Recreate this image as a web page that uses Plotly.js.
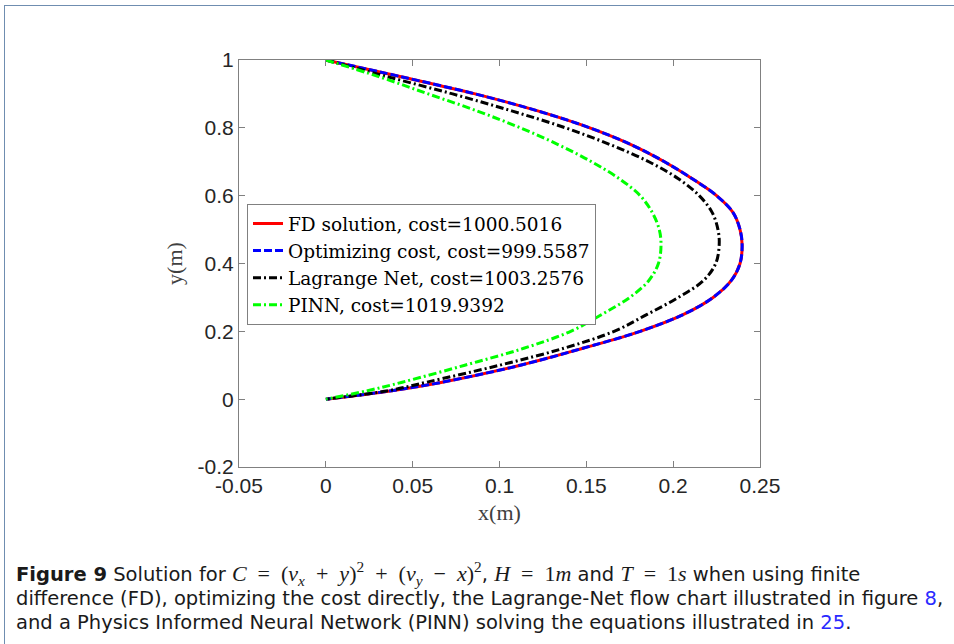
<!DOCTYPE html>
<html>
<head>
<meta charset="utf-8">
<script src="https://cdn.plot.ly/plotly-3.0.1.min.js"></script>
<style>
html,body{margin:0;padding:0;background:#fff;}
#wrap{position:relative;width:954px;height:644px;overflow:hidden;}
#frame{position:absolute;left:4px;top:5px;width:1000px;height:700px;border:1.5px solid #6f8db0;pointer-events:none;z-index:5;}
</style>
</head>
<body>
<div id="wrap"><div id="chart"></div><div id="frame"></div></div>
<script>
// Series (upper branch from (0,1), lower branch back to (0,0))
const fdX  = [0, 0.044, 0.086, 0.122, 0.152, 0.176, 0.195, 0.211, 0.225, 0.2345, 0.2385, 0.2397, 0.2385, 0.2335, 0.223, 0.206, 0.181, 0.148, 0.112, 0.067, 0.038, 0];
const fdY  = [1, 0.95, 0.9, 0.85, 0.8, 0.75, 0.7, 0.65, 0.6, 0.55, 0.5, 0.455, 0.4, 0.35, 0.3, 0.25, 0.2, 0.15, 0.1, 0.05, 0.025, 0];
const optX = [0, 0.044, 0.086, 0.122, 0.152, 0.176, 0.195, 0.211, 0.225, 0.2345, 0.2385, 0.2397, 0.2385, 0.2335, 0.223, 0.206, 0.181, 0.148, 0.112, 0.067, 0.038, 0];
const optY = [1, 0.95, 0.9, 0.85, 0.8, 0.75, 0.7, 0.65, 0.6, 0.55, 0.5, 0.455, 0.4, 0.35, 0.3, 0.25, 0.2, 0.15, 0.1, 0.05, 0.025, 0];
const lnX  = [0, 0.036, 0.073, 0.107, 0.138, 0.164, 0.186, 0.203, 0.215, 0.2225, 0.2258, 0.2265, 0.2245, 0.2175, 0.203, 0.185, 0.166, 0.137, 0.1, 0.058, 0.036, 0];
const lnY  = [1, 0.95, 0.9, 0.85, 0.8, 0.75, 0.7, 0.65, 0.6, 0.55, 0.5, 0.455, 0.4, 0.35, 0.3, 0.25, 0.2, 0.15, 0.1, 0.05, 0.025, 0];
const pnX  = [0, 0.031, 0.059, 0.087, 0.112, 0.134, 0.153, 0.169, 0.181, 0.188, 0.192, 0.193, 0.1915, 0.186, 0.175, 0.159, 0.141, 0.114, 0.08, 0.044, 0.024, 0];
const pnY  = [1, 0.95, 0.9, 0.85, 0.8, 0.75, 0.7, 0.65, 0.6, 0.55, 0.5, 0.453, 0.4, 0.35, 0.3, 0.25, 0.2, 0.15, 0.1, 0.05, 0.025, 0];
const seriesNames = ['FD solution, cost=1000.5016', 'Optimizing cost, cost=999.5587', 'Lagrange Net, cost=1003.2576', 'PINN, cost=1019.9392'];
const xTickVals = [-0.05, 0, 0.05, 0.1, 0.15, 0.2, 0.25];
const xTickText = ['-0.05', '0', '0.05', '0.1', '0.15', '0.2', '0.25'];
const yTickVals = [-0.2, 0, 0.2, 0.4, 0.6, 0.8, 1];
const yTickText = ['-0.2', '0', '0.2', '0.4', '0.6', '0.8', '1'];

const traces = [
  {x: fdX, y: fdY, name: seriesNames[0], mode: 'lines', line: {color: '#ff0000', width: 3, shape: 'spline', smoothing: 1}},
  {x: optX, y: optY, name: seriesNames[1], mode: 'lines', line: {color: '#0000ff', width: 3, dash: '8px,3px', shape: 'spline', smoothing: 1}},
  {x: lnX, y: lnY, name: seriesNames[2], mode: 'lines', line: {color: '#000000', width: 3, dash: '8px,3px,2px,3px', shape: 'spline', smoothing: 1}},
  {x: pnX, y: pnY, name: seriesNames[3], mode: 'lines', line: {color: '#00ff00', width: 3, dash: '8px,3px,2px,3px', shape: 'spline', smoothing: 1}}
];

const tickFont = {family: 'Liberation Sans, Arial, sans-serif', size: 21, color: '#262626'};
const serif = 'Liberation Serif, Times New Roman, serif';
const legendSerif = 'DejaVu Serif, Liberation Serif, serif';
const capFont = 'DejaVu Sans, sans-serif';

const sp = '\u00a0\u00a0';
const m = s => '<span style="font-family:Liberation Serif;font-size:22px">' + s + '</span>';
const capLines = [
  '<b>Figure 9</b> Solution for ' + m('<i>C</i>' + sp + '=' + sp + '(<i>v<sub>x</sub></i>' + sp + '+' + sp + '<i>y</i>)<sup>2</sup>' + sp + '+' + sp + '(<i>v<sub>y</sub></i>' + sp + '−' + sp + '<i>x</i>)<sup>2</sup>') + ', ' + m('<i>H</i>' + sp + '=' + sp + '1<i>m</i>') + ' and ' + m('<i>T</i>' + sp + '=' + sp + '1<i>s</i>') + ' when using finite',
  'difference (FD), optimizing the cost directly, the Lagrange-Net flow chart illustrated in figure <span style="color:#2a2aff">8</span>,',
  'and a Physics Informed Neural Network (PINN) solving the equations illustrated in <span style="color:#2a2aff">25</span>.'
];
const capY = [573, 598, 622];
const plotL = 239, plotW = 521, plotB = 467, plotH = 407;

const annotations = capLines.map((t, i) => ({
  text: t, xref: 'paper', yref: 'paper',
  x: (14 - plotL) / plotW, y: (plotB - capY[i]) / plotH,
  xanchor: 'left', yanchor: 'middle', align: 'left', showarrow: false,
  font: {family: capFont, size: 19.5, color: '#1a1a1a'}
}));

const layout = {
  width: 954, height: 644,
  margin: {l: 239, r: 194, t: 60, b: 177, pad: 0},
  paper_bgcolor: '#ffffff', plot_bgcolor: '#ffffff',
  showlegend: true,
  xaxis: {
    range: [-0.05, 0.25], tickmode: 'array', tickvals: xTickVals, ticktext: xTickText,
    ticks: 'inside', ticklen: 6, tickcolor: '#808080', tickwidth: 1,
    showline: true, linecolor: '#808080', linewidth: 1, mirror: 'ticks',
    showgrid: false, zeroline: false, tickfont: tickFont, automargin: false,
    title: {text: 'x(m)', font: {family: serif, size: 22, color: '#404040'}, standoff: 8}
  },
  yaxis: {
    range: [-0.2, 1], tickmode: 'array', tickvals: yTickVals, ticktext: yTickText,
    ticks: 'inside', ticklen: 6, tickcolor: '#808080', tickwidth: 1,
    showline: true, linecolor: '#808080', linewidth: 1, mirror: 'ticks',
    showgrid: false, zeroline: false, tickfont: tickFont, automargin: false,
    title: {text: 'y(m)', font: {family: serif, size: 22, color: '#404040'}, standoff: 8}
  },
  legend: {
    x: (247 - plotL) / plotW, y: (plotB - 204) / plotH, xanchor: 'left', yanchor: 'top',
    bgcolor: '#ffffff', bordercolor: '#808080', borderwidth: 1,
    font: {family: legendSerif, size: 18.5, color: '#000000'}, tracegroupgap: 0, itemwidth: 30
  },
  annotations: annotations
};

Plotly.newPlot('chart', traces, layout, {displayModeBar: false, staticPlot: true});
</script>
</body>
</html>
